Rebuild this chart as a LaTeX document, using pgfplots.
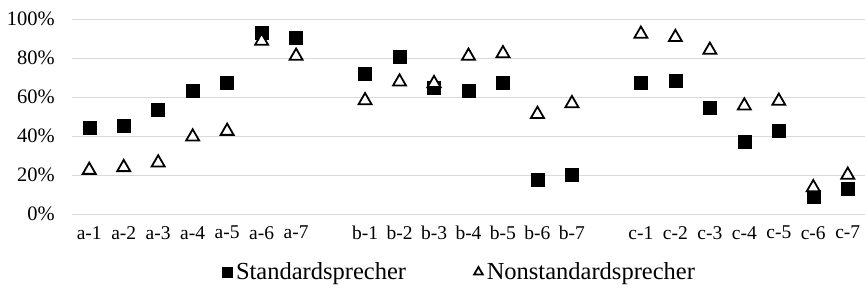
\documentclass[border=0pt]{standalone}
\usepackage{pgfplots}
\pgfplotsset{compat=1.18}
\usepackage{fontspec}
\setmainfont{Liberation Serif}
\definecolor{gridgray}{RGB}{217,217,217}
\begin{document}
\begin{tikzpicture}
\begin{axis}[
  at={(0pt,0pt)}, anchor=south west,
  scale only axis,
  width=793pt, height=195pt,
  xmin=-0.5, xmax=22.5,
  ymin=0, ymax=100,
  axis line style={draw=none},
  ymajorgrids, major grid style={gridgray, line width=1pt},
  ytick={0,20,40,60,80,100},
  yticklabels={0\%,20\%,40\%,60\%,80\%,100\%},
  xtick={0,1,2,3,4,5,6,8,9,10,11,12,13,14,16,17,18,19,20,21,22},
  xticklabels={a-1,a-2,a-3,a-4,a-5,a-6,a-7,b-1,b-2,b-3,b-4,b-5,b-6,b-7,c-1,c-2,c-3,c-4,c-5,c-6,c-7},
  major tick length=0pt,
  tick style={draw=none},
  xticklabel style={font=\fontsize{19.5}{22}\selectfont, anchor=north, inner sep=0pt, yshift=-12pt},
  yticklabel style={font=\fontsize{20.5}{23}\selectfont, anchor=east, inner sep=0pt, xshift=-17pt},
  clip=false,
  legend columns=2,
  legend style={draw=none, fill=none, font=\fontsize{24.5}{27}\selectfont,
    at={(axis description cs:0.5,0)}, anchor=center, yshift=-58pt, xshift=-9.5pt,
    /tikz/every odd column/.append style={column sep=3pt},
    /tikz/every even column/.append style={column sep=67pt},
    nodes={inner sep=1pt}},
  legend image code/.code={\draw[#1, mark size=5pt] plot coordinates {(0pt,0pt)};},
]
\addplot[only marks, mark=square*, mark size=6.5pt, draw=black, fill=black] coordinates {
(0,44.3) (1,45.1) (2,53.7) (3,63.2) (4,67.3) (5,93.2) (6,90.4)
(8,72.1) (9,80.7) (10,64.8) (11,63.2) (12,67.3) (13,17.8) (14,20.3)
(16,67.3) (17,68.2) (18,54.5) (19,37.1) (20,42.6) (21,8.9) (22,12.8)
};
\addlegendentry{Standardsprecher}
\addplot[only marks, mark=triangle*, mark size=7.5pt, draw=black, fill=white, line width=1.8pt] coordinates {
(0,22.5) (1,23.9) (2,26.3) (3,39.6) (4,42.5) (5,88.7) (6,81.0)
(8,58.2) (9,67.8) (10,67.0) (11,81.0) (12,82.3) (13,51.2) (14,56.7)
(16,92.3) (17,90.6) (18,84.1) (19,55.5) (20,57.9) (21,13.6) (22,20.0)
};
\addlegendentry{Nonstandardsprecher}
\end{axis}
\pgfresetboundingbox
\path[use as bounding box] (-72pt,-79pt) rectangle (793pt,214pt);
\end{tikzpicture}
\end{document}
